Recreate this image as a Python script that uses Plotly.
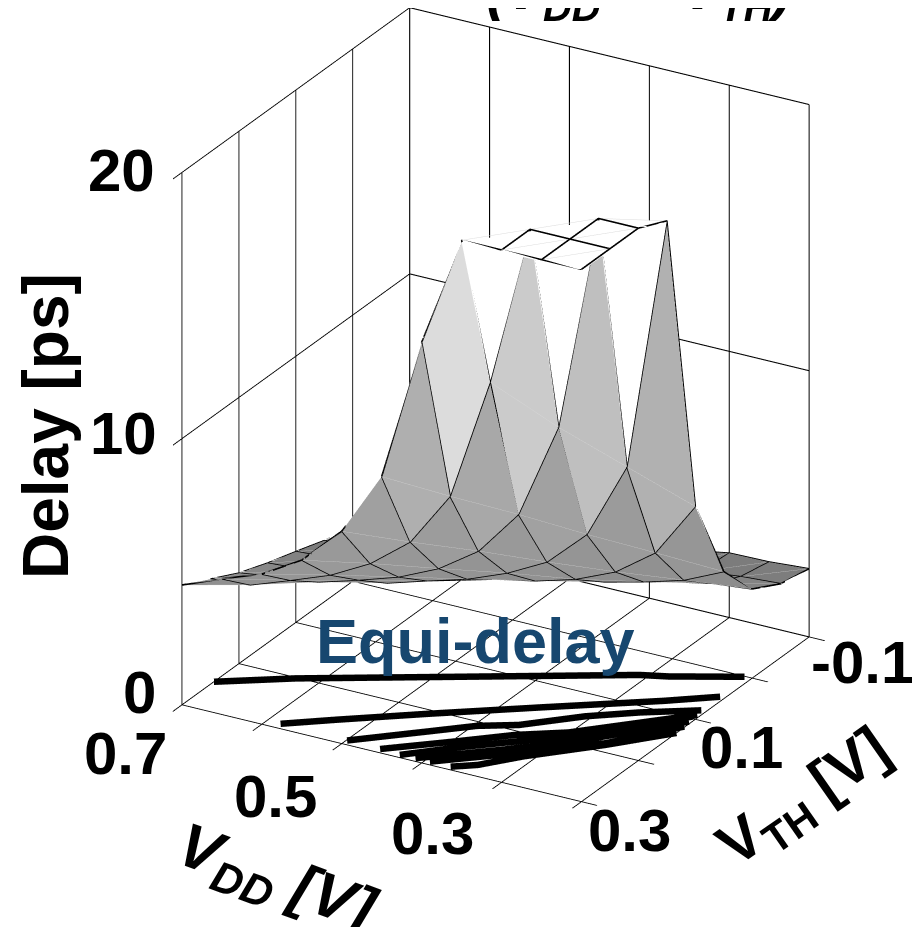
import numpy as np
import plotly.graph_objects as go

VDD = [0.70, 0.65, 0.60, 0.55, 0.50, 0.45, 0.40, 0.35, 0.30, 0.25, 0.20]
VTH = [0.30, 0.25, 0.20, 0.15, 0.10, 0.05, 0.00, -0.05, -0.10]
DELAY = [
    [4.50, 5.10, 5.64, 6.53, 7.98, 10.4, 15.8, 20.0, 20.0, 20.0, 20.0],
    [3.95, 4.10, 4.64, 5.20, 6.00, 7.17, 9.25, 13.9, 20.0, 20.0, 20.0],
    [3.40, 3.60, 3.80, 4.24, 4.72, 5.40, 6.42, 8.16, 11.8, 20.0, 20.0],
    [3.00, 3.10, 3.20, 3.35, 3.80, 4.23, 4.82, 5.60, 7.00, 9.90, 19.5],
    [2.66, 2.75, 2.85, 2.95, 3.05, 3.45, 3.75, 4.18, 4.82, 5.90, 8.00],
    [2.30, 2.40, 2.50, 2.60, 2.70, 2.75, 3.10, 3.30, 3.67, 4.10, 4.78],
    [2.00, 2.10, 2.20, 2.30, 2.40, 2.45, 2.50, 2.80, 2.90, 3.20, 3.35],
    [1.80, 1.85, 1.90, 1.95, 2.00, 2.05, 2.10, 2.20, 2.50, 2.67, 2.77],
    [1.60, 1.65, 1.70, 1.80, 1.85, 1.90, 2.00, 2.15, 2.42, 2.45, 2.56],
]
SHADE_Z = [2.5, 3.5, 5.0, 7.0, 9.4, 10.7, 12.2, 13.5, 14.7, 17.0]
SHADE_GRAY = [124, 140, 148, 156, 168, 176, 192, 204, 220, 255]

# Equi-delay contours on the floor: (VDD values, VTH values)
EQ_VDD = [
    [0.700, 0.628, 0.475, 0.310, 0.281, 0.209],
    [0.583, 0.536, 0.458, 0.358, 0.253, 0.206],
    [0.499, 0.435, 0.396, 0.358, 0.307, 0.261, 0.206],
    [0.457, 0.395, 0.349, 0.302, 0.204],
    [0.431, 0.384, 0.340, 0.285, 0.206],
    [0.412, 0.341, 0.277, 0.203],
    [0.394, 0.335, 0.253, 0.201],
    [0.368, 0.345, 0.313, 0.251, 0.200],
]
EQ_VTH = [
    [0.244, 0.202, 0.126, 0.044, 0.034, 0.001],
    [0.291, 0.259, 0.208, 0.145, 0.080, 0.048],
    [0.292, 0.240, 0.208, 0.188, 0.143, 0.112, 0.081],
    [0.293, 0.245, 0.208, 0.180, 0.091],
    [0.295, 0.254, 0.220, 0.174, 0.096],
    [0.294, 0.240, 0.186, 0.107],
    [0.294, 0.249, 0.183, 0.118],
    [0.294, 0.279, 0.243, 0.186, 0.133],
]
VDD_TICKS = [0.7, 0.6, 0.5, 0.4, 0.3, 0.2]
VTH_TICKS = [0.3, 0.2, 0.1, 0.0, -0.1]
Z_TICKS = [0, 10, 20]
VDD_LABELS = [(0.7, "0.7", -56, -48), (0.5, "0.5", -66, -53), (0.3, "0.3", -69, -51)]
VTH_LABELS = [(0.3, "0.3", 48, -28), (0.1, "0.1", 46, -28), (-0.1, "-0.1", 53, -25)]
Z_LABELS = [(0, "0", -42, 13), (10, "10", -58, 5), (20, "20", -60, 2)]

W, H = 920, 927
FAM = "Liberation Sans"
nx, ny = len(VDD), len(VTH)
Z = np.array(DELAY)
gx, gy = np.meshgrid(VDD, VTH)
idx = lambda i, j: j * nx + i

ti, tj, tk, fc = [], [], [], []
for j in range(ny - 1):
    for i in range(nx - 1):
        m = (Z[j, i] + Z[j, i + 1] + Z[j + 1, i] + Z[j + 1, i + 1]) / 4
        g = int(np.interp(m, SHADE_Z, SHADE_GRAY))
        col = f"rgb({g},{g},{g})"
        a, b, c, d = idx(i, j), idx(i + 1, j), idx(i + 1, j + 1), idx(i, j + 1)
        ti += [a, a]; tj += [b, c]; tk += [c, d]; fc += [col, col]

fig = go.Figure()
# keep the faces of the flat top just under the wire so its lines stay visible
fig.add_trace(go.Mesh3d(
    x=gx.ravel(), y=gy.ravel(), z=np.minimum(Z, 19.93).ravel(), i=ti, j=tj, k=tk, facecolor=fc,
    flatshading=True, hoverinfo="skip",
    lighting=dict(ambient=1, diffuse=0, specular=0, roughness=1, fresnel=0),
))
dx, dy, dz = [], [], []
for k in range(-(ny - 1), nx):
    cells = [(i, i - k) for i in range(nx) if 0 <= i - k < ny]
    dx += [VDD[i] for i, j in cells] + [None]
    dy += [VTH[j] for i, j in cells] + [None]
    dz += [DELAY[j][i] for i, j in cells] + [None]
fig.add_trace(go.Scatter3d(x=dx, y=dy, z=dz, mode="lines",
                           line=dict(color="#dcdcdc", width=1), hoverinfo="skip"))
wx, wy, wz = [], [], []
for j in range(ny):
    wx += VDD + [None]; wy += [VTH[j]] * nx + [None]; wz += DELAY[j] + [None]
for i in range(nx):
    wx += [VDD[i]] * ny + [None]; wy += VTH + [None]; wz += list(Z[:, i]) + [None]
fig.add_trace(go.Scatter3d(x=wx, y=wy, z=wz, mode="lines",
                           line=dict(color="black", width=3.2), hoverinfo="skip"))
for vd, vt in zip(EQ_VDD, EQ_VTH):
    fig.add_trace(go.Scatter3d(x=vd, y=vt, z=[0] * len(vd), mode="lines",
                               line=dict(color="black", width=13), hoverinfo="skip"))

def px(x, y, text, size, angle=0, color="black", italic=False):
    return dict(x=x / W, y=1 - y / H, xref="paper", yref="paper", text=text, showarrow=False,
                textangle=angle, xanchor="center", yanchor="middle",
                font=dict(family=FAM, size=size, color=color, weight=700,
                          style="italic" if italic else "normal"))

tickfont = dict(family=FAM, size=60, color="black", weight=700)
scene_ann = []
for v, t, sx, sy in VDD_LABELS:
    scene_ann.append(dict(x=v, y=VTH[0], z=0, text=t, showarrow=False, xshift=sx, yshift=sy, font=tickfont))
for v, t, sx, sy in VTH_LABELS:
    scene_ann.append(dict(x=VDD[-1], y=v, z=0, text=t, showarrow=False, xshift=sx, yshift=sy, font=tickfont))
for v, t, sx, sy in Z_LABELS:
    scene_ann.append(dict(x=VDD[0], y=VTH[0], z=v, text=t, showarrow=False, xshift=sx, yshift=sy, font=tickfont))

axcommon = dict(showbackground=False, showgrid=True, gridcolor="#000", gridwidth=2.2,
                zeroline=False, showline=False, ticks="outside", ticklen=18, tickcolor="#000",
                tickwidth=2.2, showspikes=False, title=dict(text=""), showticklabels=False)
D = 2.075
C = dict(x=-0.0258, y=-0.0765, z=-0.1155)
fig.update_layout(
    width=W, height=H, margin=dict(l=0, r=0, t=0, b=0), showlegend=False,
    paper_bgcolor="white",
    scene=dict(
        domain=dict(x=[0, 1], y=[0.019, 1]),
        aspectmode="manual", aspectratio=dict(x=1.0156, y=1, z=1.29),
        camera=dict(projection=dict(type="orthographic"),
                    eye=dict(x=0.455 * D + C["x"], y=-0.786 * D + C["y"], z=0.419 * D + C["z"]),
                    up=dict(x=0, y=0, z=1), center=C),
        xaxis=dict(axcommon, range=[0.7, 0.2], tickvals=VDD_TICKS),
        yaxis=dict(axcommon, range=[0.3, -0.1], tickvals=VTH_TICKS),
        zaxis=dict(axcommon, range=[0, 20], tickvals=Z_TICKS),
        annotations=scene_ann,
    ),
    annotations=[
        px(467, 633, "Equi-delay", 63, color="#17476f"),
        px(38, 418, "Delay [ps]", 64, angle=-90),
        px(268, 873, "V<sub>DD</sub> [V]", 62, angle=20, italic=True),
        px(797, 792, "V<sub>TH</sub> [V]", 60, angle=-35),
        px(631, -15, "(V<sub>DD</sub> \u2212 \u00a0V<sub>TH</sub>)", 57, italic=True),
        px(-10, 661, "l", 64),
    ],
)
fig.write_html("out.html")
